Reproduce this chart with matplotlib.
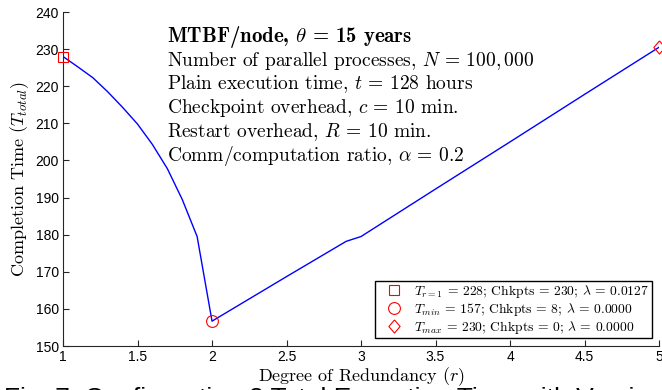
"""Completion time vs degree of redundancy"""
import matplotlib
matplotlib.use('Agg')
import matplotlib.pyplot as plt

plt.rcParams.update({'font.family': 'Liberation Sans', 'font.size': 10,
                     'mathtext.fontset': 'cm', 'axes.linewidth': 0.8})

# sampled completion time (hours) for each redundancy degree
redundancy = [1.0, 1.1, 1.2, 1.3, 1.4, 1.5, 1.6, 1.7, 1.8, 1.9,
              2.0, 2.5, 2.9, 3.0, 3.5, 4.0, 4.5, 5.0]
t_total = [228.0, 225.2, 222.3, 218.5, 214.3, 209.8, 204.3, 197.8, 189.5, 179.5,
           156.7, 168.7, 178.2, 179.5, 192.3, 205.0, 217.8, 230.5]

# highlighted points: r=1, minimum, maximum
r_one, t_one = 1.0, 228.0
r_min, t_min = 2.0, 156.7
r_max, t_max = 5.0, 230.5
legend_labels = [r'$T_{r=1}$ = 228; Chkpts = 230; $\lambda$ = 0.0127',
                 r'$T_{min}$ = 157; Chkpts = 8; $\lambda$ = 0.0000',
                 r'$T_{max}$ = 230; Chkpts = 0; $\lambda$ = 0.0000']

info_title = r'MTBF/node, $\theta$ = 15 years'
info_lines = [r'Number of parallel processes, $N$ = $100,000$',
              r'Plain execution time, $t$ = 128 hours',
              r'Checkpoint overhead, $c$ = 10 min.',
              r'Restart overhead, $R$ = 10 min.',
              r'Comm/computation ratio, $\alpha$ = 0.2']

# wide diamond like MATLAB's
diamond = [(0, 1), (0.85, 0), (0, -1), (-0.85, 0), (0, 1)]

fig = plt.figure(figsize=(6.62, 3.9), dpi=100, facecolor='white')
ax = fig.add_axes([0.0952, 0.1128, 0.9003, 0.8564])

ax.plot(redundancy, t_total, color='#0000ff', lw=1.0, zorder=2)
ax.plot([r_one], [t_one], ls='none', marker='s', ms=7, mfc='none', mec='red', mew=0.8,
        label=legend_labels[0], clip_on=False, zorder=3)
ax.plot([r_min], [t_min], ls='none', marker='o', ms=8.5, mfc='none', mec='red', mew=0.8,
        label=legend_labels[1], clip_on=False, zorder=3)
ax.plot([r_max], [t_max], ls='none', marker=diamond, ms=9.5, mfc='none', mec='red', mew=0.8,
        label=legend_labels[2], clip_on=False, zorder=3)

ax.set_xlim(1, 5)
ax.set_ylim(150, 240)
ax.set_xticks([1, 1.5, 2, 2.5, 3, 3.5, 4, 4.5, 5])
ax.set_xticklabels(['1', '1.5', '2', '2.5', '3', '3.5', '4', '4.5', '5'])
ax.set_yticks(range(150, 241, 10))
for s in ['top', 'right']:
    ax.spines[s].set_visible(False)
for s in ['left', 'bottom']:
    ax.spines[s].set_color('#262626')
ax.tick_params(direction='in', length=4, width=0.8, colors='#262626', labelsize=10,
               labelcolor='black', pad=3)

ax.set_xlabel(r'Degree of Redundancy ($r$)', family='cmr10', fontsize=13, labelpad=1)
ax.set_ylabel(r'Completion Time ($T_{total}$)', family='cmr10', fontsize=13, labelpad=3)

# parameter block
x0 = (167 - 63) / 596
ax.text(x0, (346 - 41.7) / 334, info_title, transform=ax.transAxes, family='cmb10',
        fontsize=15, va='baseline')
for i, line in enumerate(info_lines):
    ax.text(x0, (346 - 65.5 - 23.8 * i) / 334, line, transform=ax.transAxes,
            family='cmr10', fontsize=14, va='baseline')

leg = ax.legend(loc='lower right', bbox_to_anchor=(0.988, 0.023), borderaxespad=0,
                fancybox=False, framealpha=1, edgecolor='black', markerscale=1.0,
                prop={'family': 'cmr10', 'size': 9.8}, handlelength=2.5,
                handletextpad=0.2, labelspacing=0.05, borderpad=0.2)
leg.get_frame().set_linewidth(1.0)

# figure caption, clipped by the lower edge
fig.text(0.006, 1 - 387 / 390, 'Fig. 7: Configuration 3 Total Execution Time with Varying',
         fontsize=19, va='top', ha='left', family='Liberation Sans')

fig.savefig('out.png', dpi=100, facecolor='white')
